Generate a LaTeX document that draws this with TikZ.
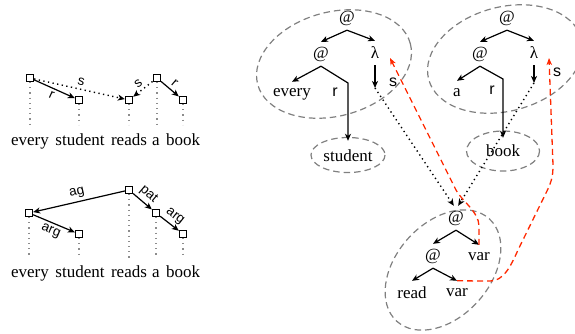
\documentclass[tikz,border=0pt]{standalone}
\usepackage{fontspec}
\setmainfont{Liberation Serif}
\newfontfamily\labelsans{Liberation Sans}
\usetikzlibrary{arrows.meta}
\definecolor{redc}{RGB}{255,40,0}
\begin{document}
\begin{tikzpicture}[x=1pt,y=-1pt,
  sq/.style={draw, line width=1.3pt, minimum size=7pt, inner sep=0pt, fill=white},
  word/.style={font=\fontsize{17}{20}\selectfont, inner sep=0pt, text height=12pt, text depth=4pt, anchor=base},
  elab/.style={font=\labelsans\fontsize{13.5}{16}\selectfont, inner sep=3pt, sloped, midway},
  tn/.style={font=\fontsize{17}{20}\selectfont, inner sep=0pt, minimum height=24pt},
  slab/.style={font=\labelsans\fontsize{16}{19}\selectfont, inner sep=0pt},
  arr/.style={-{Stealth[length=7pt,width=6pt,inset=2pt]}, line width=1.2pt},
  arrrev/.style={{Stealth[length=7pt,width=6pt,inset=2pt]}-, line width=1.2pt},
  dotarr/.style={-{Stealth[length=7pt,width=6pt,inset=2pt]}, line width=1.4pt, dash pattern=on 1.3pt off 3.4pt},
  dotarrrev/.style={{Stealth[length=7pt,width=6pt,inset=2pt]}-, line width=1.4pt, dash pattern=on 1.3pt off 3.4pt},
  vdots/.style={draw=black!45, line width=1.2pt, dash pattern=on 1.2pt off 4pt},
  cloud/.style={draw=black!50, line width=1.2pt, dash pattern=on 6.5pt off 4pt},
  redarr/.style={-{Stealth[length=7pt,width=5.5pt,inset=2pt]}, draw=redc, line width=1.3pt, dash pattern=on 6pt off 4pt}
]
\useasboundingbox (0,0) rectangle (575,333);

% ---------- left top ----------
\node[word] (w1) at (30,145) {every};
\node[word] (w2) at (80,145) {student};
\node[word] (w3) at (129,145) {reads};
\node[word] (w4) at (156,145) {a};
\node[word] (w5) at (183,145) {book};
\draw[vdots, shorten >=8pt] (30,82) coordinate (v1) -- (v1 |- w1.north);
\draw[vdots, shorten >=8pt] (79,104) coordinate (v2) -- (v2 |- w2.north);
\draw[vdots, shorten >=8pt] (129,104) coordinate (v3) -- (v3 |- w3.north);
\draw[vdots, shorten >=8pt] (157,82) coordinate (v4) -- (v4 |- w4.north);
\draw[vdots, shorten >=8pt] (183,104) coordinate (v5) -- (v5 |- w5.north);
\node[sq] (s1) at (30,78) {};
\node[sq] (s2) at (79,100) {};
\node[sq] (s3) at (129,100) {};
\node[sq] (s4) at (157,78) {};
\node[sq] (s5) at (183,100) {};
\draw[arr] (s1) -- node[elab, below] {r} (s2);
\draw[dotarr] (s1) -- node[elab, above] {s} (s3);
\draw[dotarrrev] (s3) -- node[elab, above] {s} (s4);
\draw[arr] (s4) -- node[elab, above] {r} (s5);

% ---------- left bottom ----------
\node[word] (x1) at (30,277) {every};
\node[word] (x2) at (80,277) {student};
\node[word] (x3) at (129,277) {reads};
\node[word] (x4) at (156,277) {a};
\node[word] (x5) at (183,277) {book};
\draw[vdots, shorten >=7pt] (29,217) coordinate (u1) -- (u1 |- x1.north);
\draw[vdots, shorten >=7pt] (79,238) coordinate (u2) -- (u2 |- x2.north);
\draw[vdots, shorten >=7pt] (129,194) coordinate (u3) -- (u3 |- x3.north);
\draw[vdots, shorten >=7pt] (156,217) coordinate (u4) -- (u4 |- x4.north);
\draw[vdots, shorten >=7pt] (183,238) coordinate (u5) -- (u5 |- x5.north);
\node[sq] (b1) at (29,213) {};
\node[sq] (b2) at (79,234) {};
\node[sq] (b3) at (129,190) {};
\node[sq] (b4) at (156,213) {};
\node[sq] (b5) at (183,234) {};
\draw[arrrev] (b1) -- node[elab, above] {ag} (b3);
\draw[arr] (b1) -- node[elab, below] {arg} (b2);
\draw[arr] (b3) -- node[elab, above] {pat} (b4);
\draw[arr] (b4) -- node[elab, above] {arg} (b5);

% ---------- ellipses ----------
\draw[cloud] [shift={(334,64)}, rotate=15] (0,0) ellipse [x radius=79, y radius=52];
\draw[cloud] [shift={(505,59)}, rotate=15] (0,0) ellipse [x radius=79, y radius=52];
\draw[cloud] (348,155) ellipse [x radius=37, y radius=17.5];
\draw[cloud] (503,151) ellipse [x radius=36.5, y radius=20];
\draw[cloud] [shift={(443,270)}, rotate=48] (0,0) ellipse [x radius=69, y radius=47];

% ---------- tree 1 ----------
\node[tn] (t1a) at (347,18) {@};
\node[tn] (t1b) at (321,54) {@};
\node[tn] (t1l) at (375,53) {λ};
\node[tn] (every) at (292,94) {every};
\node[tn, minimum height=30pt] (student) at (348,156) {student};
\coordinate (c1) at (348,83);
\coordinate (h1) at (375,88);
\node[slab] (r1) at (335,92) {r};
\node[slab] (sl1) at (393,82) {s};
\draw[arr] (t1a.south) -- (t1b.north);
\draw[arr] (t1a.south) -- (t1l.north);
\draw[arr] (t1b.south) -- (every.north);
\draw[arr] (t1b.south) -- (c1) -- (student.north);
\draw[arr] (t1l.south) -- (h1);

% ---------- tree 2 ----------
\node[tn] (t2a) at (507,18) {@};
\node[tn] (t2b) at (480,54) {@};
\node[tn] (t2l) at (534,53) {λ};
\node[tn] (aa) at (457,93) {a};
\node[tn, minimum height=26pt] (book) at (503,151) {book};
\coordinate (c2) at (503,79);
\coordinate (h2) at (534,83);
\node[slab] (r2) at (492,90) {r};
\node[slab] (sl2) at (557,72) {s};
\draw[arr] (t2a.south) -- (t2b.north);
\draw[arr] (t2a.south) -- (t2l.north);
\draw[arr] (t2b.south) -- (aa.north);
\draw[arr] (t2b.south) -- (c2) -- (book.north);
\draw[arr] (t2l.south) -- (h2);

% ---------- bottom tree ----------
\node[tn] (ba) at (456,218) {@};
\node[tn] (bb) at (433,256) {@};
\node[tn] (bv1) at (479,257) {var};
\node[tn] (brd) at (412,293) {read};
\node[tn] (bv2) at (457,293) {var};
\draw[arr] (ba.south) -- (bb.north);
\draw[arr] (ba.south) -- (bv1.north);
\draw[arr] (bb.south) -- (brd.north);
\draw[arr] (bb.south) -- (bv2.north);

% ---------- dotted links ----------
\draw[dotarr] (h1) -- (ba.100);
\draw[dotarr] (h2) -- (ba.80);

% ---------- red links ----------
\coordinate (r1a) at (479,226);
\coordinate (r1b) at (456,190);
\coordinate (r1e) at (390,58);
\draw[redarr] (bv1.north) -- (r1a) .. controls (479,212) and (461,200) .. (r1b) -- (r1e);
\coordinate (r2a) at (490,281);
\coordinate (r2b) at (518,250);
\coordinate (r2c) at (545,195);
\coordinate (r2d) at (553,165);
\coordinate (r2e) at (549,58);
\draw[redarr] (bv2.north) -- (r2a) .. controls (503,281) and (510,268) .. (r2b) -- (r2c) .. controls (551,183) and (553,178) .. (r2d) -- (r2e);
\end{tikzpicture}
\end{document}
